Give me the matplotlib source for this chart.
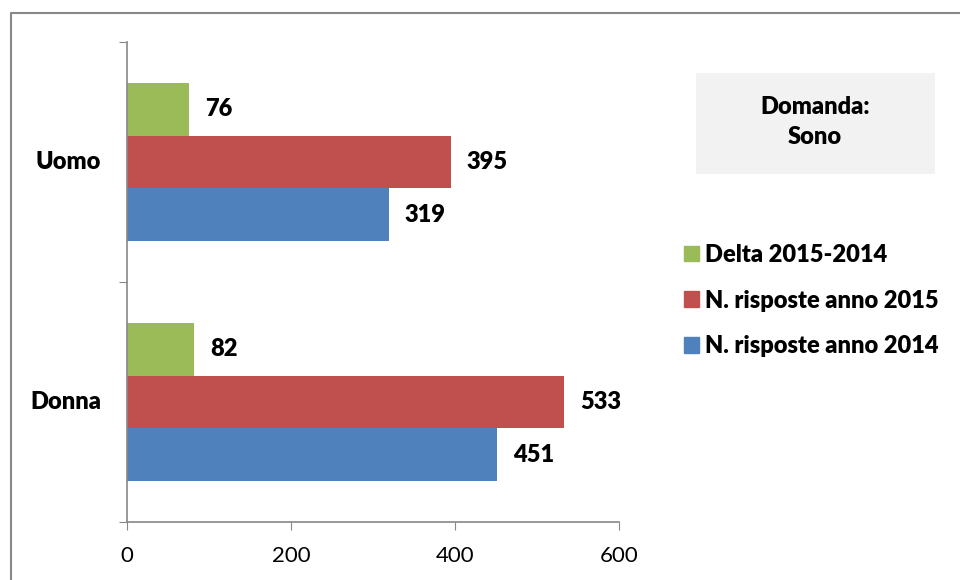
import matplotlib
matplotlib.use("Agg")
import matplotlib.pyplot as plt
from matplotlib.patches import Rectangle, Patch

# data
categories = ["Donna", "Uomo"]
anno_2014 = [451, 319]
anno_2015 = [533, 395]
delta = [82, 76]
series_names = ["N. risposte anno 2014", "N. risposte anno 2015", "Delta 2015-2014"]
x_ticks = [0, 200, 400, 600]

colors = ["#4F81BD", "#C0504D", "#9BBB59"]

plt.rcParams["font.family"] = ["Lato", "DejaVu Sans"]
fs = 17

fig = plt.figure(figsize=(9.6, 5.8), dpi=100)
ax = fig.add_axes([0.1323, 0.1, 0.5125, 0.8276])

h = 0.22
ypos = list(range(len(categories)))
series = [anno_2014, anno_2015, delta]
offsets = [-h, 0, h]
for vals, off, col in zip(series, offsets, colors):
    ys = [y + off for y in ypos]
    ax.barh(ys, vals, height=h, color=col, edgecolor="none")
    for y, v in zip(ys, vals):
        ax.annotate(str(v), (v, y), xytext=(11.5, 0), textcoords="offset points",
                    va="center", ha="left", fontsize=fs, fontweight="heavy")

ax.set_xlim(0, 600)
ax.set_ylim(-0.5, 1.5)
ax.set_xticks(x_ticks)
ax.set_xticklabels([str(t) for t in x_ticks], fontsize=16)
ax.tick_params(axis="x", direction="out", length=6, color="#888888", pad=11)

# boundary ticks on y, labels at the centres
ax.set_yticks([-0.5, 0.5, 1.5])
ax.set_yticklabels([])
ax.tick_params(axis="y", direction="out", length=6, color="#888888")
for y, c in zip(ypos, categories):
    ax.annotate(c, (0, y), xytext=(-18.5, 0), textcoords="offset points",
                ha="right", va="center", fontsize=fs, fontweight="heavy")

for s in ["top", "right"]:
    ax.spines[s].set_visible(False)
for s in ["left", "bottom"]:
    ax.spines[s].set_color("#888888")
    ax.spines[s].set_linewidth(1.2)

# grey title box
fig.patches.append(Rectangle((696 / 960, 1 - 174 / 580), 239 / 960, 101 / 580,
                             transform=fig.transFigure, facecolor="#F2F2F2",
                             edgecolor="none", zorder=0))
fig.text(815 / 960, 1 - 122 / 580, "Domanda:\nSono", ha="center", va="center",
         fontsize=fs, fontweight="heavy", linespacing=1.45)

# legend, drawn in reverse order like the reference
handles = [Patch(color=c) for c in colors][::-1]
leg = fig.legend(handles, series_names[::-1], loc="upper left",
                 bbox_to_anchor=(665 / 960, 1 - 225 / 580), frameon=False,
                 prop={"size": fs, "weight": "heavy"}, handlelength=0.65,
                 handleheight=0.65, handletextpad=0.25, labelspacing=1.0,
                 borderpad=0.3)

# outer chart border (only top and left are visible in the crop)
fig.add_artist(plt.Line2D([11 / 960, 11 / 960, 1.0], [0.0, 1 - 13 / 580, 1 - 13 / 580],
                          transform=fig.transFigure, color="#888888", linewidth=1.5))

fig.savefig("out.png", dpi=100)
